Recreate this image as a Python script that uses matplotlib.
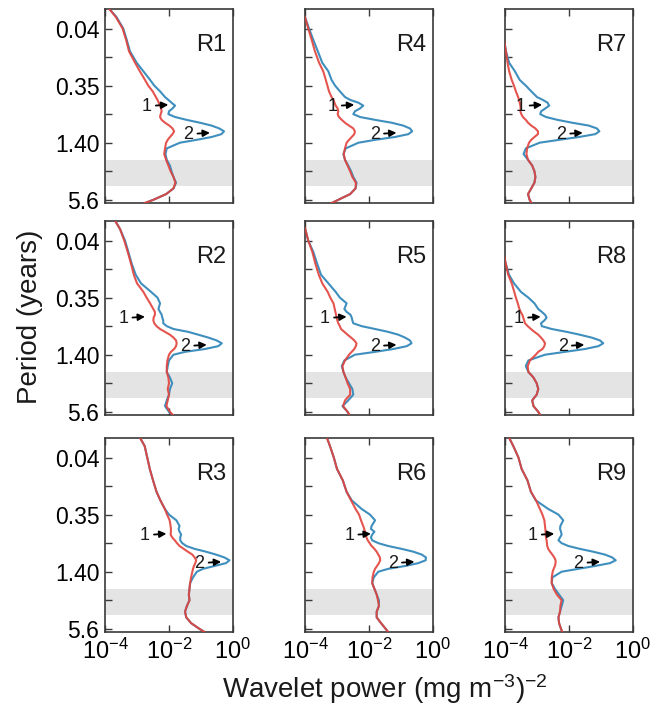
import numpy as np
import matplotlib
matplotlib.use("Agg")
import matplotlib.pyplot as plt
from matplotlib.ticker import FixedLocator, FixedFormatter, NullLocator

plt.rcParams["font.family"] = ["Liberation Sans", "DejaVu Sans"]
plt.rcParams["mathtext.fontset"] = "custom"
plt.rcParams["mathtext.rm"] = "Liberation Sans"
plt.rcParams["mathtext.it"] = "Liberation Sans:italic"
plt.rcParams["mathtext.default"] = "regular"

BLUE = "#3f8fbe"
RED = "#e2423c"
BAND = "#e4e4e4"
EDGE = "#3a3a3a"

PERIOD = [0.0503, 0.0663, 0.0875, 0.1155, 0.152, 0.201, 0.2475, 0.305, 0.35,
          0.402, 0.462, 0.495, 0.530, 0.569, 0.609, 0.653, 0.700, 0.750,
          0.804, 0.862, 0.924, 0.990, 1.061, 1.137, 1.219, 1.306, 1.40,
          1.608, 1.847, 2.122, 2.438, 2.80, 3.216, 3.695, 4.244, 4.875,
          5.60, 6.433]

# log10 wavelet power, blue and red spectra per region
R1_BLUE = [-3.95, -3.64, -3.43, -3.32, -3.22, -3.01, -2.80, -2.59, -2.46, -2.28,
           -2.125, -2.02, -1.92, -1.81, -1.89, -2.0, -2.02, -1.81, -1.45, -1.03,
           -0.67, -0.43, -0.28, -0.36, -0.67, -1.14, -1.66, -2.07, -2.11, -2.07,
           -1.97, -1.92, -1.86, -1.78, -1.86, -2.09, -2.49, -2.96]
R1_RED = [-3.95, -3.66, -3.45, -3.34, -3.25, -3.06, -2.91, -2.75, -2.65, -2.51,
          -2.41, -2.36, -2.32, -2.28, -2.25, -2.23, -2.26, -2.28, -2.23, -2.125,
          -1.99, -1.89, -1.84, -1.89, -1.97, -2.04, -2.09, -2.125, -2.15, -2.09,
          -2.02, -1.95, -1.86, -1.80, -1.86, -2.09, -2.49, -2.96]
R2_BLUE = [-3.74, -3.53, -3.375, -3.27, -3.17, -3.04, -2.875, -2.56, -2.36, -2.28,
           -2.33, -2.28, -2.23, -2.21, -2.18, -2.18, -2.07, -1.86, -1.40, -1.08,
           -0.77, -0.51, -0.35, -0.46, -0.875, -1.5, -1.86, -2.0, -2.04, -2.07,
           -1.97, -1.90, -1.97, -2.0, -2.07, -2.125, -2.0, -1.81]
R2_RED = [-3.74, -3.53, -3.40, -3.29, -3.19, -3.10, -3.0, -2.80, -2.70, -2.59,
          -2.49, -2.44, -2.44, -2.48, -2.49, -2.46, -2.39, -2.28, -2.125, -1.97,
          -1.86, -1.78, -1.76, -1.78, -1.84, -1.94, -2.0, -2.05, -2.07, -2.07,
          -2.02, -2.0, -2.04, -2.0, -2.04, -2.08, -1.97, -1.81]
R3_BLUE = [-2.96, -2.76, -2.68, -2.60, -2.50, -2.39, -2.27, -2.13, -2.0, -1.77,
           -1.67, -1.70, -1.67, -1.62, -1.65, -1.65, -1.585, -1.46, -1.20, -0.84,
           -0.53, -0.27, -0.11, -0.22, -0.58, -0.94, -1.13, -1.25, -1.34, -1.36,
           -1.38, -1.36, -1.44, -1.50, -1.46, -1.31, -1.05, -0.76]
R3_RED = [-2.96, -2.76, -2.68, -2.60, -2.50, -2.39, -2.27, -2.13, -2.06, -1.98,
          -1.95, -1.94, -1.94, -1.95, -1.90, -1.82, -1.75, -1.67, -1.54, -1.41,
          -1.27, -1.20, -1.15, -1.18, -1.22, -1.25, -1.27, -1.31, -1.34, -1.36,
          -1.38, -1.36, -1.44, -1.50, -1.46, -1.31, -1.05, -0.76]
R4_BLUE = [-4.2, -4.0, -3.875, -3.74, -3.60, -3.46, -3.27, -3.17, -3.06, -2.91,
           -2.75, -2.59, -2.33, -2.18, -2.28, -2.44, -2.49, -2.28, -1.81, -1.29,
           -0.93, -0.72, -0.65, -0.77, -1.19, -1.81, -2.33, -2.73, -2.80, -2.75,
           -2.65, -2.56, -2.49, -2.39, -2.42, -2.59, -2.96, -3.32]
R4_RED = [-4.2, -4.0, -3.90, -3.79, -3.69, -3.56, -3.43, -3.35, -3.30, -3.25,
          -3.17, -3.11, -3.08, -3.04, -2.98, -2.96, -2.98, -2.94, -2.85, -2.75,
          -2.625, -2.49, -2.44, -2.46, -2.54, -2.625, -2.70, -2.75, -2.79, -2.75,
          -2.67, -2.59, -2.52, -2.41, -2.42, -2.59, -2.96, -3.32]
R5_BLUE = [-4.2, -3.99, -3.90, -3.74, -3.625, -3.5, -3.27, -3.04, -2.91, -2.70,
           -2.77, -2.70, -2.58, -2.54, -2.52, -2.49, -2.23, -1.81, -1.40, -1.08,
           -0.875, -0.72, -0.67, -0.82, -1.24, -1.81, -2.44, -2.77, -2.85, -2.80,
           -2.73, -2.625, -2.52, -2.49, -2.65, -2.83, -2.67, -2.56]
R5_RED = [-4.2, -3.99, -3.90, -3.77, -3.68, -3.57, -3.46, -3.29, -3.21, -3.11,
          -3.07, -3.05, -3.03, -3.01, -2.99, -2.96, -2.91, -2.875, -2.77, -2.67,
          -2.56, -2.46, -2.39, -2.41, -2.46, -2.54, -2.625, -2.75, -2.83, -2.80,
          -2.73, -2.67, -2.59, -2.59, -2.75, -2.81, -2.67, -2.56]
R6_BLUE = [-3.35, -3.22, -3.10, -3.0, -2.82, -2.70, -2.54, -2.23, -1.97, -1.81,
           -1.92, -1.94, -1.83, -1.90, -1.94, -1.90, -1.71, -1.40, -0.98, -0.61,
           -0.35, -0.22, -0.23, -0.46, -0.875, -1.40, -1.71, -1.85, -1.90, -1.83,
           -1.76, -1.69, -1.69, -1.76, -1.76, -1.625, -1.48, -1.34]
R6_RED = [-3.35, -3.22, -3.10, -3.0, -2.82, -2.70, -2.56, -2.42, -2.31, -2.25,
          -2.18, -2.15, -2.125, -2.10, -2.08, -2.04, -1.98, -1.92, -1.83, -1.76,
          -1.71, -1.66, -1.65, -1.69, -1.75, -1.81, -1.85, -1.89, -1.90, -1.83,
          -1.76, -1.72, -1.69, -1.76, -1.76, -1.625, -1.48, -1.34]
R7_BLUE = [-4.3, -4.2, -4.1, -4.03, -3.97, -3.87, -3.69, -3.54, -3.35, -3.18,
           -3.0, -2.82, -2.67, -2.62, -2.74, -2.87, -2.90, -2.72, -2.36, -1.90,
           -1.38, -1.13, -1.05, -1.18, -1.69, -2.31, -2.92, -3.35, -3.42, -3.28,
           -3.15, -3.08, -3.05, -3.08, -3.18, -3.28, -3.23, -3.13]
R7_RED = [-4.3, -4.2, -4.1, -4.03, -3.97, -3.92, -3.87, -3.79, -3.72, -3.66,
          -3.59, -3.56, -3.54, -3.52, -3.51, -3.52, -3.49, -3.44, -3.35, -3.28,
          -3.18, -3.05, -2.97, -2.97, -3.08, -3.18, -3.25, -3.31, -3.33, -3.28,
          -3.15, -3.08, -3.05, -3.08, -3.18, -3.28, -3.23, -3.13]
R8_BLUE = [-4.4, -4.3, -4.15, -4.05, -3.98, -3.875, -3.72, -3.5, -3.27, -3.08,
           -2.96, -2.85, -2.75, -2.70, -2.77, -2.875, -2.85, -2.54, -2.07, -1.66,
           -1.29, -1.03, -0.93, -1.08, -1.5, -2.125, -2.75, -3.27, -3.35, -3.27,
           -3.11, -3.01, -2.96, -3.01, -3.15, -3.11, -2.96, -2.85]
R8_RED = [-4.4, -4.3, -4.15, -4.05, -3.98, -3.90, -3.79, -3.71, -3.66, -3.60,
          -3.55, -3.51, -3.46, -3.43, -3.40, -3.375, -3.29, -3.19, -3.08, -2.96,
          -2.875, -2.80, -2.75, -2.77, -2.83, -2.96, -3.04, -3.22, -3.29, -3.27,
          -3.11, -3.01, -2.96, -3.01, -3.15, -3.11, -2.96, -2.85]
R9_BLUE = [-3.92, -3.74, -3.58, -3.48, -3.30, -3.19, -3.04, -2.65, -2.33, -2.18,
           -2.27, -2.28, -2.25, -2.23, -2.28, -2.33, -2.23, -2.02, -1.66, -1.24,
           -0.875, -0.65, -0.54, -0.72, -1.19, -1.71, -2.23, -2.52, -2.54, -2.44,
           -2.31, -2.18, -2.23, -2.28, -2.33, -2.31, -2.25, -2.18]
R9_RED = [-3.92, -3.74, -3.58, -3.48, -3.30, -3.19, -3.03, -2.91, -2.83, -2.77,
          -2.75, -2.74, -2.73, -2.73, -2.72, -2.70, -2.69, -2.68, -2.65, -2.59,
          -2.52, -2.46, -2.42, -2.42, -2.44, -2.48, -2.51, -2.54, -2.54, -2.48,
          -2.38, -2.23, -2.27, -2.28, -2.33, -2.31, -2.25, -2.18]

REGIONS = ["R1", "R2", "R3", "R4", "R5", "R6", "R7", "R8", "R9"]
BLUES = [R1_BLUE, R2_BLUE, R3_BLUE, R4_BLUE, R5_BLUE, R6_BLUE, R7_BLUE, R8_BLUE, R9_BLUE]
REDS = [R1_RED, R2_RED, R3_RED, R4_RED, R5_RED, R6_RED, R7_RED, R8_RED, R9_RED]

# arrow tips: "1" near the semi-annual bump, "2" at the annual peak (log10 power)
PEAK1_PERIOD, PEAK2_PERIOD = 0.557, 1.10
PEAK1_LOGP = [-2.02, -2.75, -2.08, -2.46, -2.70, -1.94, -2.84, -2.885, -2.46]
PEAK2_LOGP = [-0.72, -0.82, -0.37, -1.14, -1.14, -0.58, -1.57, -1.52, -1.03]

BAND_PERIOD = (2.15, 4.05)

YT_MAJOR = [0.0875, 0.35, 1.4, 5.6]
YT_LABELS = ["0.04", "0.35", "1.40", "5.6"]
YT_MINOR = [0.175, 0.7, 2.8]
XT = [1e-4, 1e-2, 1e0]
XT_LABELS = [r"$10^{-4}$", r"$10^{-2}$", r"$10^{0}$"]

fig = plt.figure(figsize=(6.56, 7.13), dpi=100)
lefts = [105 / 656, 305 / 656, 505 / 656]
bottoms = [1 - 203 / 713, 1 - 415 / 713, 1 - 632 / 713]
w, h = 128 / 656, 194 / 713

period = np.array(PERIOD)
for k, name in enumerate(REGIONS):
    col, row = k // 3, k % 3
    ax = fig.add_axes([lefts[col], bottoms[row], w, h])
    ax.axhspan(*BAND_PERIOD, color=BAND, lw=0, zorder=0)
    ax.plot(10 ** np.array(BLUES[k]), period, color=BLUE, lw=1.5, zorder=2,
            solid_joinstyle="round")
    ax.plot(10 ** np.array(REDS[k]), period, color=RED, lw=1.5, alpha=0.9, zorder=3,
            solid_joinstyle="round")

    ax.set_xscale("log")
    ax.set_yscale("log", base=2)
    ax.set_xlim(1e-4, 1)
    ax.set_ylim(6.05, 0.0545)

    ax.xaxis.set_major_locator(FixedLocator(XT))
    ax.xaxis.set_minor_locator(NullLocator())
    ax.yaxis.set_major_locator(FixedLocator(YT_MAJOR))
    ax.yaxis.set_minor_locator(FixedLocator(YT_MINOR))
    if row == 2:
        ax.xaxis.set_major_formatter(FixedFormatter(XT_LABELS))
    else:
        ax.set_xticklabels([])
    if col == 0:
        ax.yaxis.set_major_formatter(FixedFormatter(YT_LABELS))
    else:
        ax.set_yticklabels([])
    ax.yaxis.set_minor_formatter(FixedFormatter([""] * 3))

    ax.tick_params(axis="x", which="both", direction="in", top=True, bottom=True,
                   length=5, width=1, color=EDGE, labelsize=17, pad=5)
    ax.tick_params(axis="y", which="both", direction="in", left=True, right=False,
                   length=5, width=1, color=EDGE, labelsize=16.5, pad=4)
    for s in ax.spines.values():
        s.set_color(EDGE)
        s.set_linewidth(1.2)

    ax.text(0.95, 0.815, name, transform=ax.transAxes, ha="right", va="center",
            fontsize=17, color="#1a1a1a")

    for lab, p, lp in (("1", PEAK1_PERIOD, PEAK1_LOGP[k]),
                       ("2", PEAK2_PERIOD, PEAK2_LOGP[k])):
        ax.annotate(lab, xy=(10 ** lp, p), xytext=(-12, -1), textcoords="offset points",
                    ha="right", va="center", fontsize=13, color="#1a1a1a",
                    arrowprops=dict(arrowstyle="-|>", color="black", lw=1.3,
                                    shrinkA=1, shrinkB=0, mutation_scale=10))

fig.text(0.045, 1 - 317 / 713, "Period (years)", rotation=90, ha="center",
         va="center", fontsize=20, color="#1a1a1a")
fig.text(0.587, 0.033, r"Wavelet power (mg m$^{-3}$)$^{-2}$", ha="center",
         va="center", fontsize=20, color="#1a1a1a")

fig.savefig("out.png", dpi=100)
